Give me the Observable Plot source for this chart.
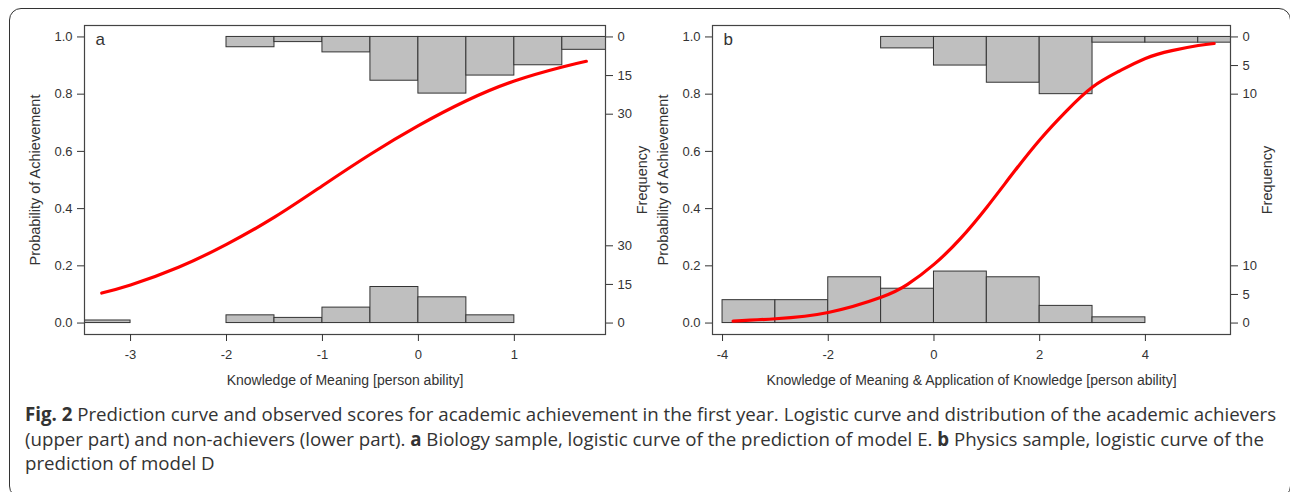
<!DOCTYPE html>
<html>
<head>
<meta charset="utf-8">
<script src="https://cdn.jsdelivr.net/npm/d3@7"></script>
<script src="https://cdn.jsdelivr.net/npm/@observablehq/plot@0.6"></script>
<style>
  html, body { margin: 0; padding: 0; background: #fff; width: 1290px; height: 492px; overflow: hidden; }
  #frame { position: absolute; left: 9px; top: 8px; width: 1282px; height: 490px; border: 1.5px solid #333; border-radius: 12px; box-sizing: border-box; }
  #pa { position: absolute; left: 0; top: 0; }
  #pb { position: absolute; left: 645px; top: 0; }
  #caption { position: absolute; left: 25px; top: 402px; font-family: "Open Sans", sans-serif; font-size: 18.7px; line-height: 24.5px; color: #333; white-space: nowrap; }
  #caption b { font-weight: 700; }
</style>
</head>
<body>
<div id="frame"></div>
<div id="pa"></div>
<div id="pb"></div>
<div id="caption"><b>Fig. 2</b> Prediction curve and observed scores for academic achievement in the first year. Logistic curve and distribution of the academic achievers<br>(upper part) and non-achievers (lower part). <b>a</b> Biology sample, logistic curve of the prediction of model E. <b>b</b> Physics sample, logistic curve of the<br>prediction of model D</div>
<script>
// ---------- Panel a data (Biology, model E) ----------
const aTopBinStart = [-2, -1.5, -1, -0.5, 0, 0.5, 1, 1.5];
const aTopCounts   = [4, 2, 6, 17, 22, 15, 11, 5];
const aBotBinStart = [-3.5, -2, -1.5, -1, -0.5, 0, 0.5];
const aBotCounts   = [1, 3, 2, 6, 14, 10, 3];
const aBinWidth = 0.5;
const aCurveX = [-3.3, -3.0, -2.5, -2.0, -1.5, -1.0, -0.5, 0.0, 0.5, 1.0, 1.5, 1.75];
const aCurveP = [0.105, 0.133, 0.195, 0.275, 0.37, 0.48, 0.59, 0.69, 0.777, 0.846, 0.895, 0.915];
const aXTicks = [-3, -2, -1, 0, 1];
const aFreqTicks = [0, 15, 30];
const aXLabel = "Knowledge of Meaning [person ability]";

// ---------- Panel b data (Physics, model D) ----------
const bTopBinStart = [-1, 0, 1, 2, 3, 4, 5];
const bTopCounts   = [2, 5, 8, 10, 1, 1, 1];
const bBotBinStart = [-4, -3, -2, -1, 0, 1, 2, 3];
const bBotCounts   = [4, 4, 8, 6, 9, 8, 3, 1];
const bBinWidth = 1;
const bCurveX = [-3.8, -3.0, -2.0, -1.0, -0.5, 0.0, 0.5, 1.0, 1.5, 2.0, 2.5, 3.0, 3.5, 4.0, 4.5, 5.0, 5.3];
const bCurveP = [0.007, 0.015, 0.037, 0.09, 0.135, 0.205, 0.295, 0.405, 0.525, 0.64, 0.74, 0.825, 0.88, 0.925, 0.952, 0.97, 0.977];
const bXTicks = [-4, -2, 0, 2, 4];
const bFreqTicks = [0, 5, 10];
const bXLabel = "Knowledge of Meaning & Application of Knowledge [person ability]";

const probTicks = [0, 0.2, 0.4, 0.6, 0.8, 1.0];
const yLabel = "Probability of Achievement";
const freqLabel = "Frequency";

function panel({letter, xDomain, topStart, topCounts, botStart, botCounts, binW, cx, cp, xTicks, freqTicks, k, xLabel, marginLeft, marginRight}) {
  const top = topStart.map((s, i) => ({x1: s, x2: s + binW, n: topCounts[i]}));
  const bot = botStart.map((s, i) => ({x1: s, x2: s + binW, n: botCounts[i]}));
  const curve = cx.map((x, i) => ({x, p: cp[i]}));
  const rightPos = [], rightLab = new Map();
  freqTicks.forEach(f => { const a = 1 - f * k, b = f * k; rightPos.push(a, b); rightLab.set(a, String(f)); rightLab.set(b, String(f)); });
  const ink = "#333";
  return Plot.plot({
    width: 645, height: 400,
    marginLeft, marginRight, marginTop: 25, marginBottom: 66,
    style: {fontFamily: "'Liberation Sans', Arial, sans-serif", fontSize: "13px", color: ink, background: "transparent", overflow: "visible"},
    x: {domain: xDomain},
    y: {domain: [-0.04, 1.04]},
    marks: [
      Plot.rect(top, {x1: "x1", x2: "x2", y1: () => 1, y2: d => 1 - d.n * k, fill: "#bfbfbf", stroke: "#333", strokeWidth: 1, clip: true}),
      Plot.rect(bot, {x1: "x1", x2: "x2", y1: () => 0, y2: d => d.n * k, fill: "#bfbfbf", stroke: "#333", strokeWidth: 1, clip: true}),
      Plot.line(curve, {x: "x", y: "p", stroke: "#ff0000", strokeWidth: 3.2, curve: "natural"}),
      Plot.frame({stroke: "#444", strokeWidth: 1.2}),
      Plot.axisY(probTicks, {anchor: "left", tickFormat: d3.format(".1f"), tickSize: 7, tickPadding: 5, label: null, fontSize: 13}),
      Plot.axisY(rightPos, {anchor: "right", tickFormat: d => rightLab.get(d), tickSize: 7, tickPadding: 5, label: null, fontSize: 13}),
      Plot.axisX(xTicks, {anchor: "bottom", tickFormat: d => String(d), tickSize: 7, tickPadding: 8, label: null, fontSize: 13}),
      Plot.text([letter], {frameAnchor: "top-left", dx: 11, dy: 14, text: d => d, textAnchor: "start", lineAnchor: "middle", fontSize: 17}),
      Plot.text([yLabel], {frameAnchor: "left", dx: -49, text: d => d, rotate: -90, textAnchor: "middle", lineAnchor: "middle", fontSize: 14.5}),
      Plot.text([freqLabel], {frameAnchor: "right", dx: 37, text: d => d, rotate: -90, textAnchor: "middle", lineAnchor: "middle", fontSize: 14.5}),
      Plot.text([xLabel], {frameAnchor: "bottom", dy: 50, text: d => d, textAnchor: "middle", fontSize: 14})
    ]
  });
}

document.getElementById("pa").append(panel({
  letter: "a", xDomain: [-3.48, 1.95],
  topStart: aTopBinStart, topCounts: aTopCounts, botStart: aBotBinStart, botCounts: aBotCounts, binW: aBinWidth,
  cx: aCurveX, cp: aCurveP, xTicks: aXTicks, freqTicks: aFreqTicks, k: 0.009, xLabel: aXLabel,
  marginLeft: 84, marginRight: 40
}));
document.getElementById("pb").append(panel({
  letter: "b", xDomain: [-4.19, 5.61],
  topStart: bTopBinStart, topCounts: bTopCounts, botStart: bBotBinStart, botCounts: bBotCounts, binW: bBinWidth,
  cx: bCurveX, cp: bCurveP, xTicks: bXTicks, freqTicks: bFreqTicks, k: 0.02, xLabel: bXLabel,
  marginLeft: 67, marginRight: 60
}));
</script>
</body>
</html>
